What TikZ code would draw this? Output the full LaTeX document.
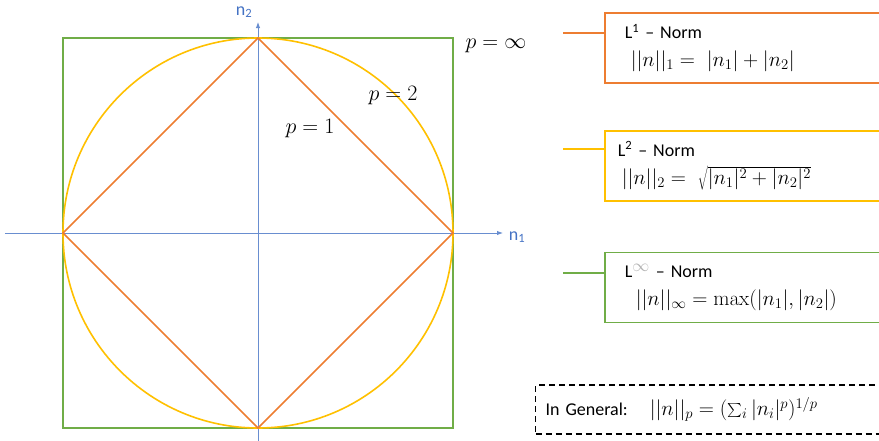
\documentclass[tikz,border=0pt]{standalone}
\usepackage{fix-cm}
\usepackage[no-math]{fontspec}
\setmainfont{Carlito}
\usepackage{xcolor}
\usepackage{graphicx}
\usetikzlibrary{arrows.meta}

\definecolor{normorange}{HTML}{ED7D31}
\definecolor{normyellow}{HTML}{FFC000}
\definecolor{normgreen}{HTML}{70AD47}
\definecolor{axisblue}{HTML}{4472C4}

\newcommand{\fml}[1]{{\fontsize{21}{28}\selectfont$#1$}}

\begin{document}
\begin{tikzpicture}[x=1pt, y=1pt,
		axis/.style={axisblue!80, line width=0.9pt, -{Latex[length=6pt,width=4.5pt]}},
		axlbl/.style={axisblue, font=\fontsize{18}{20}\selectfont},
		unitline/.style={line width=1.6pt},
		normbox/.style={
			draw, line width=1.6pt, anchor=west,
			minimum height=70pt, text width=380pt, inner xsep=20pt,
			align=left, font=\fontsize{18}{28}\selectfont
		},
		plbl/.style={font=\fontsize{22}{24}\selectfont},
		]
		
		\useasboundingbox (-258,-207) rectangle (621,233);
		\clip (-258,-207) rectangle (621,233);
		
		% axes
		\coordinate (xs) at (-253,0);
		\coordinate (xe) at (245,0);
		\coordinate (ys) at (0,-215);
		\coordinate (ye) at (0,211);
		\draw[axis] (xs) -- (xe);
		\draw[axis] (ys) -- (ye);
		\node[axlbl] (none) at (259,-4) {n\textsubscript{1}};
		\node[axlbl] (ntwo) at (-14,221) {n\textsubscript{2}};
		
		% unit balls
		\draw[unitline, normgreen] (-195,-195) rectangle (195,195);
		\draw[unitline, normyellow] (0,0) circle[radius=195];
		\draw[unitline, normorange] (195,0) -- (0,195) -- (-195,0) -- (0,-195) -- cycle;
		
		\node[plbl] (pinf) at (238,187) {$p=\infty$};
		\node[plbl] (ptwo) at (135,137) {$p=2$};
		\node[plbl] (pone) at (52,104) {$p=1$};
		
		% norm boxes
		\node[normbox, draw=normorange] (lone) at (346,185)
			{L\textsuperscript{1} -- Norm\\\hspace*{6pt}\fml{||n||_1 =\ |n_1| + |n_2|}};
		\node[normbox, draw=normyellow, inner xsep=13pt] (ltwo) at (346,67)
			{L\textsuperscript{2} -- Norm\\\hspace*{4pt}\fml{||n||_2 =\ \sqrt{|n_1|^2 + |n_2|^2}}};
		\node[normbox, draw=normgreen] (linf) at (346,-54.5)
			{L\textsuperscript{\textcolor{gray!60}{\fontsize{17}{17}\selectfont$\infty$}} -- Norm\\\hspace*{11pt}\fml{||n||_\infty = \max(|n_1|, |n_2|)}};
		
		\coordinate (cone) at (305,200);
		\coordinate (ctwo) at (305,84);
		\coordinate (cinf) at (305,-40);
		\draw[unitline, normorange] (cone) -- (cone -| lone.west);
		\draw[unitline, normyellow] (ctwo) -- (ctwo -| ltwo.west);
		\draw[unitline, normgreen] (cinf) -- (cinf -| linf.west);
		
		\node[normbox, dashed, dash pattern=on 6pt off 4pt, line width=1.2pt,
			minimum height=49pt, inner xsep=10pt] (general) at (277,-176.5)
			{In General:\hspace{22pt}\fml{||n||_p = (\mathop{\raisebox{-2pt}{\scalebox{1.4}{$\textstyle\sum$}}}\nolimits_i |n_i|^p)^{1/p}}};
		
	\end{tikzpicture}
\end{document}
